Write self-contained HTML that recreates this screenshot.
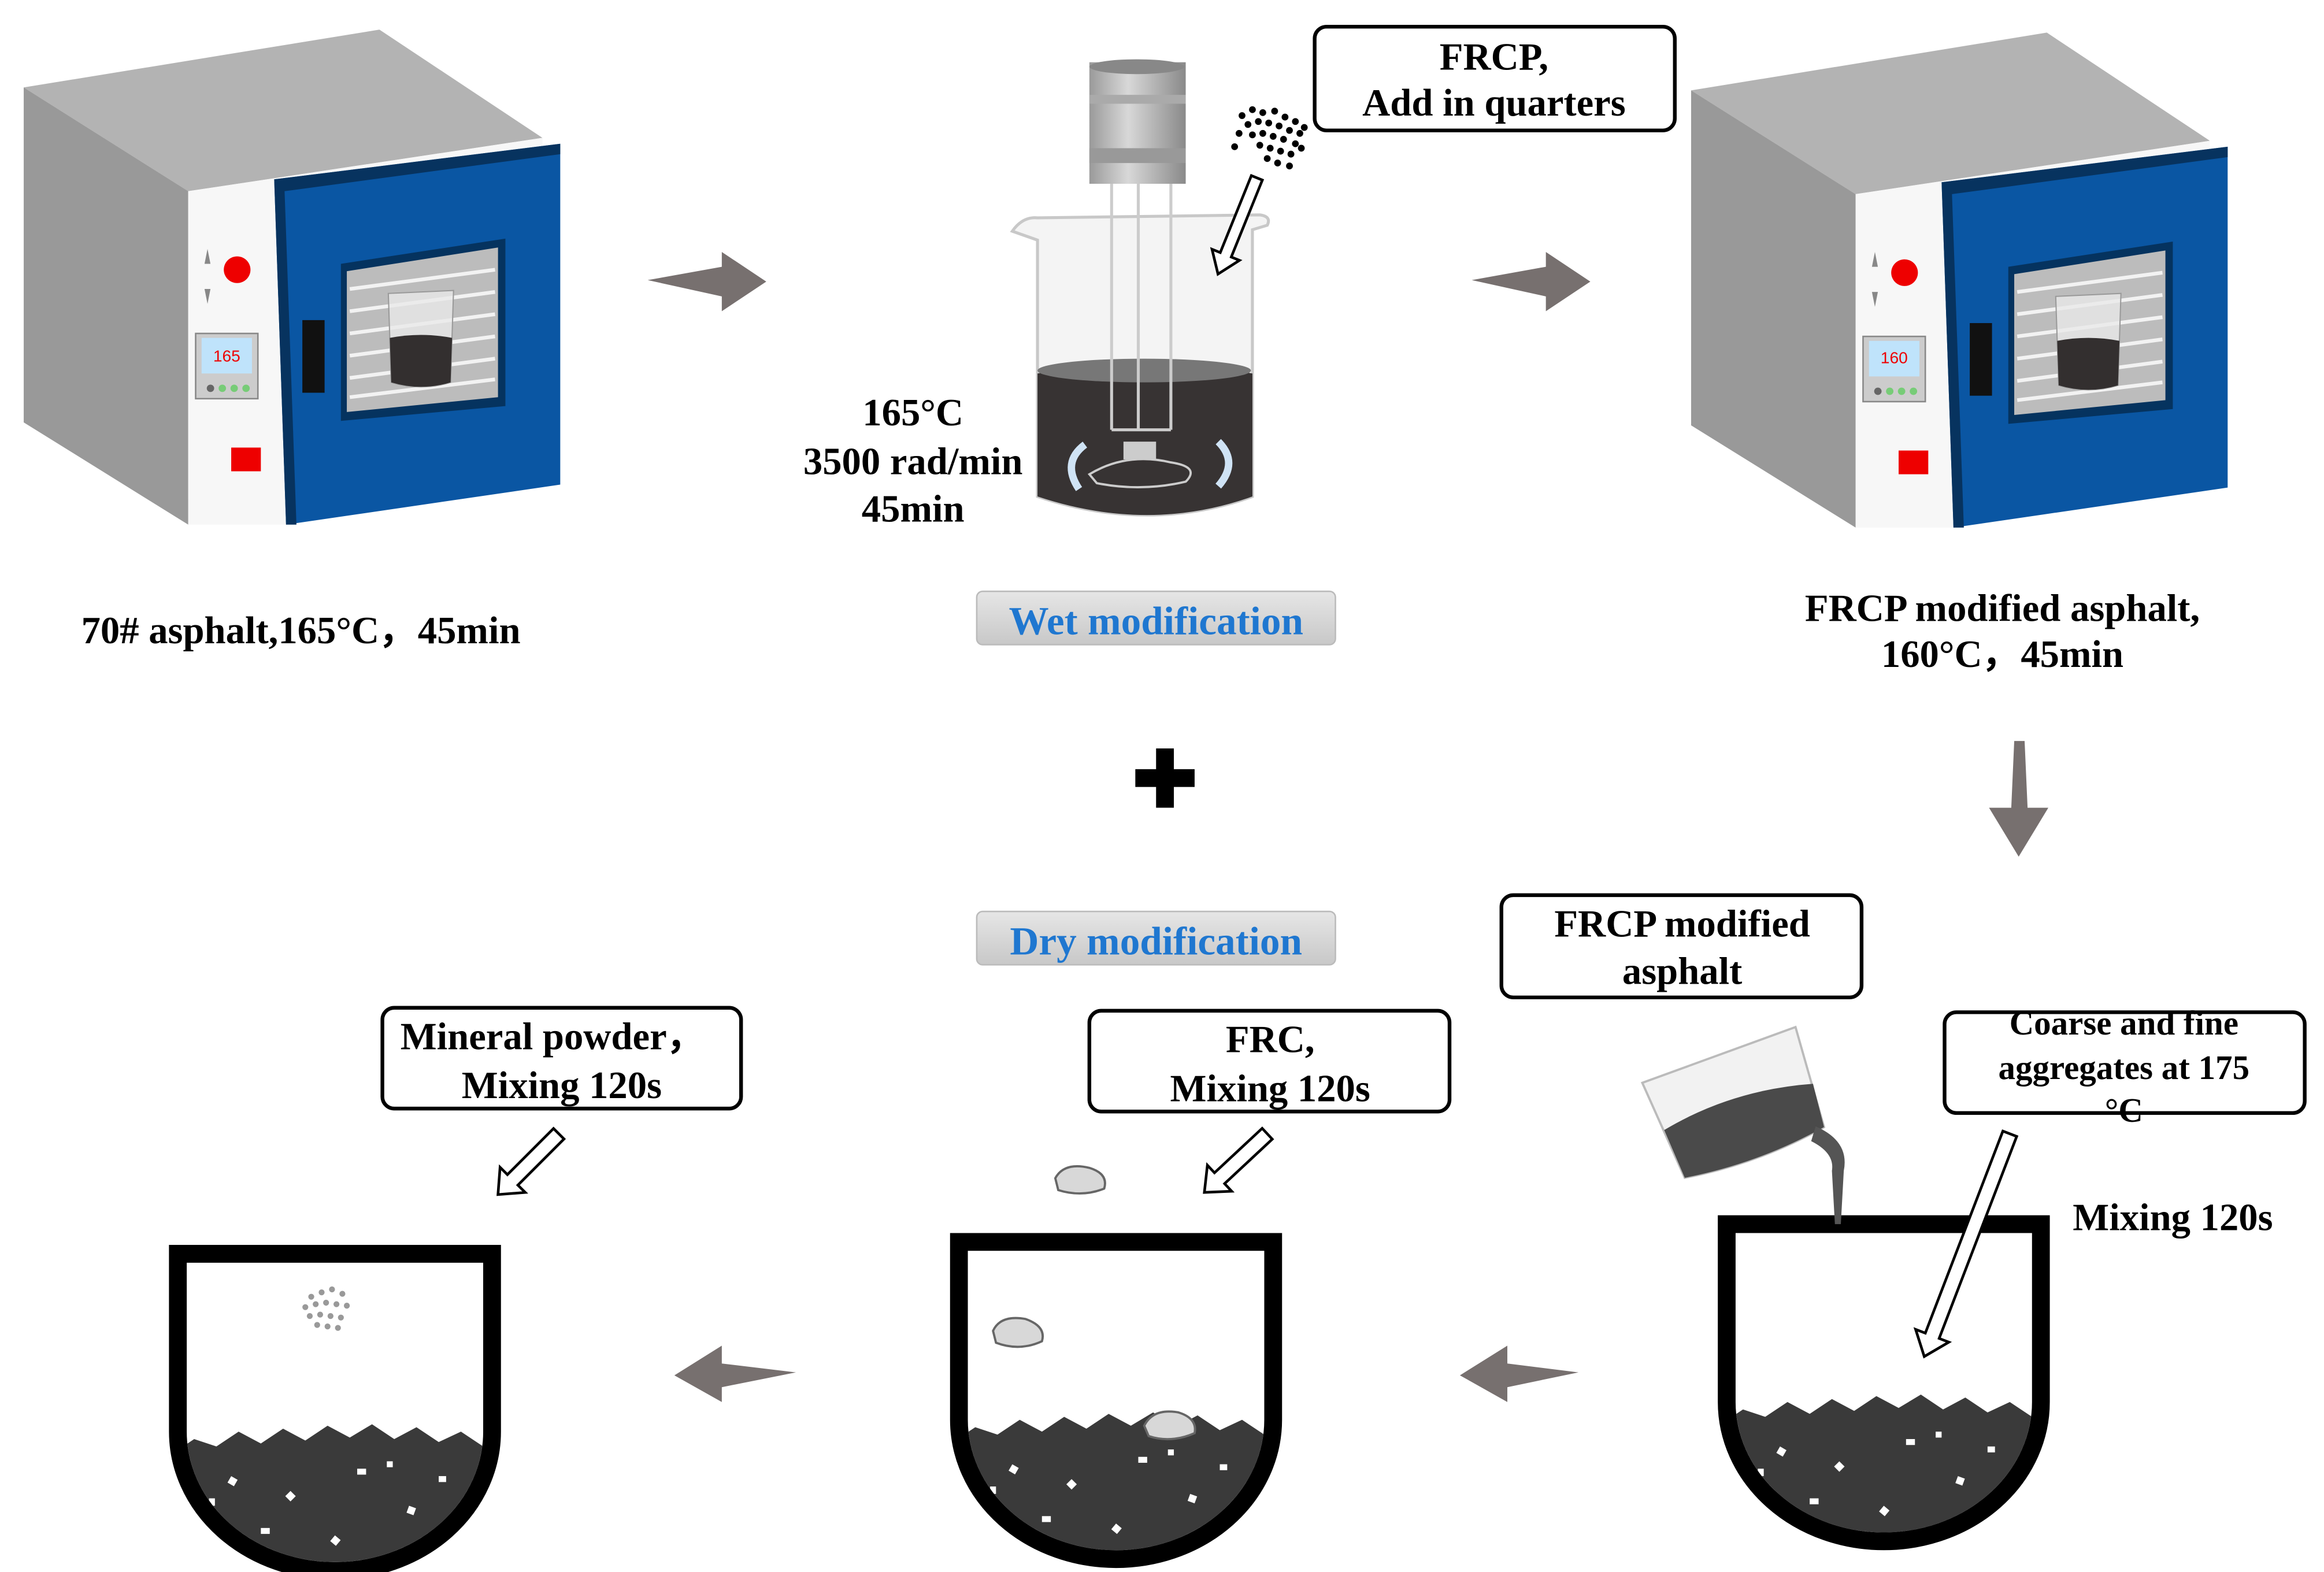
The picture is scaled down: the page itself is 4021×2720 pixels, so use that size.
<!DOCTYPE html>
<html><head><meta charset="utf-8"><style>
html,body{margin:0;padding:0;background:#fff;}
svg{display:block;}
text{font-family:"Liberation Serif",serif;font-weight:bold;}
</style></head><body>
<svg width="4021" height="2720" viewBox="0 0 1568 1060.7" preserveAspectRatio="none" xmlns="http://www.w3.org/2000/svg">
<defs>
<linearGradient id="btn" x1="0" y1="0" x2="0" y2="1"><stop offset="0" stop-color="#e6e6e6"/><stop offset="1" stop-color="#c8c8c8"/></linearGradient>
<linearGradient id="cyl" x1="0" y1="0" x2="1" y2="0"><stop offset="0" stop-color="#9a9a9a"/><stop offset="0.4" stop-color="#d8d8d8"/><stop offset="1" stop-color="#8a8a8a"/></linearGradient>
<g id="oven">
 <polygon points="16,59 256,20 366,93 127,129" fill="#b3b3b3"/>
 <polygon points="16,59 127,129 127,354 16,285" fill="#999"/>
 <polygon points="127,129 366,93 366,105 185,121 193,354 127,354" fill="#f7f7f7"/>
 <polygon points="185,121 378,97 378,327 193,354" fill="#0a56a3"/>
 <polygon points="185,121 378,97 378,104 192,129 200,354 193,354" fill="#07335f"/>
 <polygon points="230,178 341,161 341,274 230,284" fill="#05335f"/>
 <polygon points="234,183 336,167 336,268 234,278" fill="#bcbcbc"/>
 <g stroke="#f2f2f2" stroke-width="2.5">
  <line x1="236" y1="195" x2="334" y2="182"/><line x1="236" y1="210" x2="334" y2="197"/><line x1="236" y1="225" x2="334" y2="212"/><line x1="236" y1="240" x2="334" y2="227"/><line x1="236" y1="255" x2="334" y2="242"/><line x1="236" y1="268" x2="334" y2="256"/>
 </g>
 <path d="M262,198 L306,196 L304,258 Q284,264 264,258 Z" fill="#e8e8e8" fill-opacity="0.8" stroke="#999" stroke-width="0.8"/>
 <path d="M263,228 Q284,224 305,228 L304,258 Q284,264 264,258 Z" fill="#332f2f"/>
 <rect x="204" y="216" width="15" height="49" fill="#111"/>
 <rect x="132" y="225" width="42" height="44" fill="#ccc" stroke="#888"/>
 <rect x="136" y="228" width="34" height="24" fill="#bfe3fb"/>
 <circle cx="142" cy="262" r="2.5" fill="#666"/><circle cx="150" cy="262" r="2.5" fill="#7c7"/><circle cx="158" cy="262" r="2.5" fill="#7c7"/><circle cx="166" cy="262" r="2.5" fill="#7c7"/>
 <circle cx="160" cy="182" r="9" fill="#e00"/>
 <polygon points="140,168 142,178 138,178" fill="#888"/><polygon points="140,205 142,195 138,195" fill="#888"/>
 <rect x="156" y="302" width="20" height="16" fill="#e00"/>
</g>
<g id="bowl">
 <path d="M-106,0 H106 V120 A106,94 0 0 1 -106,120 Z" fill="#fff" stroke="#000" stroke-width="12"/>
</g>
<clipPath id="bclip"><path d="M-100,0 H100 V120 A100,88 0 0 1 -100,120 Z"/></clipPath>
<g id="agg">
 <g clip-path="url(#bclip)">
  <path d="M-110,135 L-95,125 L-80,130 L-65,120 L-50,128 L-35,118 L-20,126 L-5,116 L10,124 L25,115 L40,125 L55,117 L70,127 L85,120 L100,130 L110,130 L110,230 L-110,230 Z" fill="#3a3a3a"/>
  <g fill="#fff">
   <rect x="-70" y="150" width="5" height="5" transform="rotate(30 -70 150)"/><rect x="-30" y="160" width="5" height="5" transform="rotate(45 -30 160)"/><rect x="15" y="145" width="6" height="4"/><rect x="50" y="170" width="5" height="5" transform="rotate(20 50 170)"/><rect x="-50" y="185" width="6" height="4"/><rect x="0" y="190" width="5" height="5" transform="rotate(40 0 190)"/><rect x="35" y="140" width="4" height="4"/><rect x="-85" y="165" width="4" height="5"/><rect x="70" y="150" width="5" height="4"/>
  </g>
 </g>
</g>
</defs>

<use href="#oven"/>
<text x="153" y="244" font-size="11" fill="#e00" text-anchor="middle" style="font-weight:normal;font-family:'Liberation Sans',sans-serif">165</text>
<use href="#oven" transform="translate(1125,2)"/>
<text x="1278" y="245" font-size="11" fill="#e00" text-anchor="middle" style="font-weight:normal;font-family:'Liberation Sans',sans-serif">160</text>

<text x="203" y="434" font-size="26" text-anchor="middle">70# asphalt,165°C，45min</text>

<g fill="#77706f">
 <polygon points="437,189 487,180 487,170 517,190 487,210 487,200"/>
 <polygon points="993,189 1043,180 1043,170 1073,190 1043,210 1043,200"/>
 <polygon points="1359,500 1366,500 1368,545 1382,545 1362,578 1342,545 1357,545"/>
 <polygon points="985,928 1017,908 1017,920 1065,926 1017,936 1017,946"/>
 <polygon points="455,928 487,908 487,920 537,926 487,936 487,946"/>
</g>

<rect x="735" y="42" width="65" height="82" fill="url(#cyl)"/>
<ellipse cx="767" cy="45" rx="32" ry="5" fill="#888"/>
<rect x="735" y="64" width="65" height="6" fill="#aaa"/><rect x="735" y="100" width="65" height="10" fill="#999"/>
<path d="M683,156 Q690,146 700,147 L850,145 Q858,146 855,152 L845,155 L845,335 Q775,360 700,335 L700,162 Z" fill="#f4f4f4" stroke="#c8c8c8" stroke-width="2"/>
<path d="M700,252 Q772,238 845,252 L845,335 Q775,360 700,335 Z" fill="#373333"/>
<ellipse cx="772" cy="250" rx="72" ry="8" fill="#777"/>
<g stroke="#ccc" stroke-width="2" fill="none">
 <line x1="750" y1="124" x2="750" y2="290"/><line x1="768" y1="124" x2="768" y2="290"/><line x1="790" y1="124" x2="790" y2="290"/><line x1="750" y1="290" x2="790" y2="290"/>
</g>
<rect x="758" y="298" width="22" height="12" fill="#ccc"/>
<path d="M735,320 Q760,305 790,312 Q810,315 800,325 Q770,332 740,326 Z" fill="none" stroke="#ccc" stroke-width="1.5"/>
<path d="M732,300 Q716,312 728,330" stroke="#cfe3f5" stroke-width="5" fill="none"/>
<path d="M822,298 Q836,312 822,328" stroke="#cfe3f5" stroke-width="5" fill="none"/>
<g fill="#000">
 <circle cx="838" cy="78" r="2.3"/><circle cx="845" cy="74" r="2.3"/><circle cx="852" cy="76" r="2.3"/><circle cx="860" cy="75" r="2.3"/><circle cx="867" cy="79" r="2.3"/><circle cx="874" cy="82" r="2.3"/><circle cx="842" cy="84" r="2.3"/><circle cx="849" cy="82" r="2.3"/><circle cx="856" cy="83" r="2.3"/><circle cx="863" cy="85" r="2.3"/><circle cx="870" cy="88" r="2.3"/><circle cx="877" cy="90" r="2.3"/><circle cx="836" cy="90" r="2.3"/><circle cx="845" cy="91" r="2.3"/><circle cx="852" cy="90" r="2.3"/><circle cx="859" cy="92" r="2.3"/><circle cx="866" cy="94" r="2.3"/><circle cx="874" cy="97" r="2.3"/><circle cx="850" cy="98" r="2.3"/><circle cx="857" cy="100" r="2.3"/><circle cx="864" cy="102" r="2.3"/><circle cx="871" cy="104" r="2.3"/><circle cx="855" cy="107" r="2.3"/><circle cx="862" cy="110" r="2.3"/><circle cx="870" cy="112" r="2.3"/><circle cx="878" cy="100" r="2.3"/><circle cx="833" cy="99" r="2.3"/><circle cx="880" cy="86" r="2.3"/>
</g>
<g transform="translate(848,120) rotate(112)"><polygon points="0,-4 56,-4 56,-10 70,0 56,10 56,4 0,4" fill="#fff" stroke="#000" stroke-width="1.8"/></g>

<text x="616" y="287" font-size="26" text-anchor="middle">165°C</text>
<text x="616" y="320" font-size="26" text-anchor="middle">3500 rad/min</text>
<text x="616" y="352" font-size="26" text-anchor="middle">45min</text>

<rect x="887" y="18" width="243" height="70" rx="8" fill="#fff" stroke="#000" stroke-width="2.5"/>
<text x="1008" y="47" font-size="26" text-anchor="middle">FRCP,</text>
<text x="1008" y="78" font-size="26" text-anchor="middle">Add in quarters</text>

<rect x="659" y="399" width="242" height="36" rx="4" fill="url(#btn)" stroke="#bbb"/>
<text x="780" y="428" font-size="27" fill="#1f77d0" text-anchor="middle">Wet modification</text>
<rect x="659" y="615" width="242" height="36" rx="4" fill="url(#btn)" stroke="#bbb"/>
<text x="780" y="644" font-size="27" fill="#1f77d0" text-anchor="middle">Dry modification</text>

<rect x="780" y="505" width="12" height="40" fill="#000"/><rect x="766" y="519" width="40" height="12" fill="#000"/>

<text x="1351" y="419" font-size="26" text-anchor="middle">FRCP modified asphalt,</text>
<text x="1351" y="450" font-size="26" text-anchor="middle">160°C，45min</text>

<rect x="1013" y="604" width="243" height="69" rx="8" fill="#fff" stroke="#000" stroke-width="2.5"/>
<text x="1135" y="632" font-size="26" text-anchor="middle">FRCP modified</text>
<text x="1135" y="664" font-size="26" text-anchor="middle">asphalt</text>

<rect x="1312" y="683" width="243" height="68" rx="8" fill="#fff" stroke="#000" stroke-width="2.5"/>
<text x="1433" y="698" font-size="23" text-anchor="middle">Coarse and fine</text>
<text x="1433" y="728" font-size="23" text-anchor="middle">aggregates at 175</text>
<text x="1433" y="757" font-size="23" text-anchor="middle">°C</text>
<text x="1466" y="830" font-size="26" text-anchor="middle">Mixing 120s</text>

<rect x="258" y="680" width="242" height="68" rx="8" fill="#fff" stroke="#000" stroke-width="2.5"/>
<text x="373" y="708" font-size="26" text-anchor="middle">Mineral powder，</text>
<text x="379" y="741" font-size="26" text-anchor="middle">Mixing 120s</text>

<rect x="735" y="682" width="243" height="68" rx="8" fill="#fff" stroke="#000" stroke-width="2.5"/>
<text x="857" y="710" font-size="26" text-anchor="middle">FRC,</text>
<text x="857" y="743" font-size="26" text-anchor="middle">Mixing 120s</text>

<g fill="#fff" stroke="#000" stroke-width="1.8">
 <g transform="translate(377,765) rotate(135)"><polygon points="0,-5 44,-5 44,-12 58,0 44,12 44,5 0,5"/></g>
 <g transform="translate(855,765) rotate(137)"><polygon points="0,-5 44,-5 44,-12 58,0 44,12 44,5 0,5"/></g>
</g>

<use href="#bowl" transform="translate(226,846)"/><use href="#agg" transform="translate(226,846)"/>
<use href="#bowl" transform="translate(753,838)"/><use href="#agg" transform="translate(753,838)"/>
<use href="#bowl" transform="translate(1271,826)"/><use href="#agg" transform="translate(1271,826)"/>

<g fill="#999">
 <circle cx="210" cy="875" r="2"/><circle cx="217" cy="872" r="2"/><circle cx="224" cy="870" r="2"/><circle cx="231" cy="873" r="2"/><circle cx="206" cy="882" r="2"/><circle cx="213" cy="880" r="2"/><circle cx="220" cy="879" r="2"/><circle cx="227" cy="880" r="2"/><circle cx="234" cy="881" r="2"/><circle cx="209" cy="888" r="2"/><circle cx="216" cy="887" r="2"/><circle cx="223" cy="888" r="2"/><circle cx="230" cy="889" r="2"/><circle cx="214" cy="894" r="2"/><circle cx="221" cy="895" r="2"/><circle cx="228" cy="896" r="2"/>
</g>
<g fill="#d8d8d8" stroke="#666" stroke-width="1.5">
 <path d="M712,795 Q718,784 735,788 Q748,792 745,802 Q730,808 714,803 Z"/>
 <path d="M670,898 Q675,887 692,890 Q706,895 703,905 Q688,912 672,906 Z"/>
 <path d="M772,962 Q778,950 795,953 Q808,957 806,967 Q790,974 775,969 Z"/>
</g>

<g transform="translate(1170,740) rotate(-20)">
 <path d="M-55,-30 L55,-30 L50,40 Q0,48 -50,40 Z" fill="#f2f2f2" stroke="#bbb" stroke-width="1.5"/>
 <path d="M-52,5 Q0,-5 53,10 L50,40 Q0,48 -50,40 Z" fill="#4a4a4a"/>
</g>
<path d="M1225,760 Q1248,770 1244,790 L1242,826 L1238,826 L1236,790 Q1238,778 1222,770 Z" fill="#555"/>
<g transform="translate(1356,765) rotate(111)"><polygon points="0,-5 146,-5 146,-12 161,0 146,12 146,5 0,5" fill="#fff" stroke="#000" stroke-width="1.8"/></g>
</svg>
</body></html>
